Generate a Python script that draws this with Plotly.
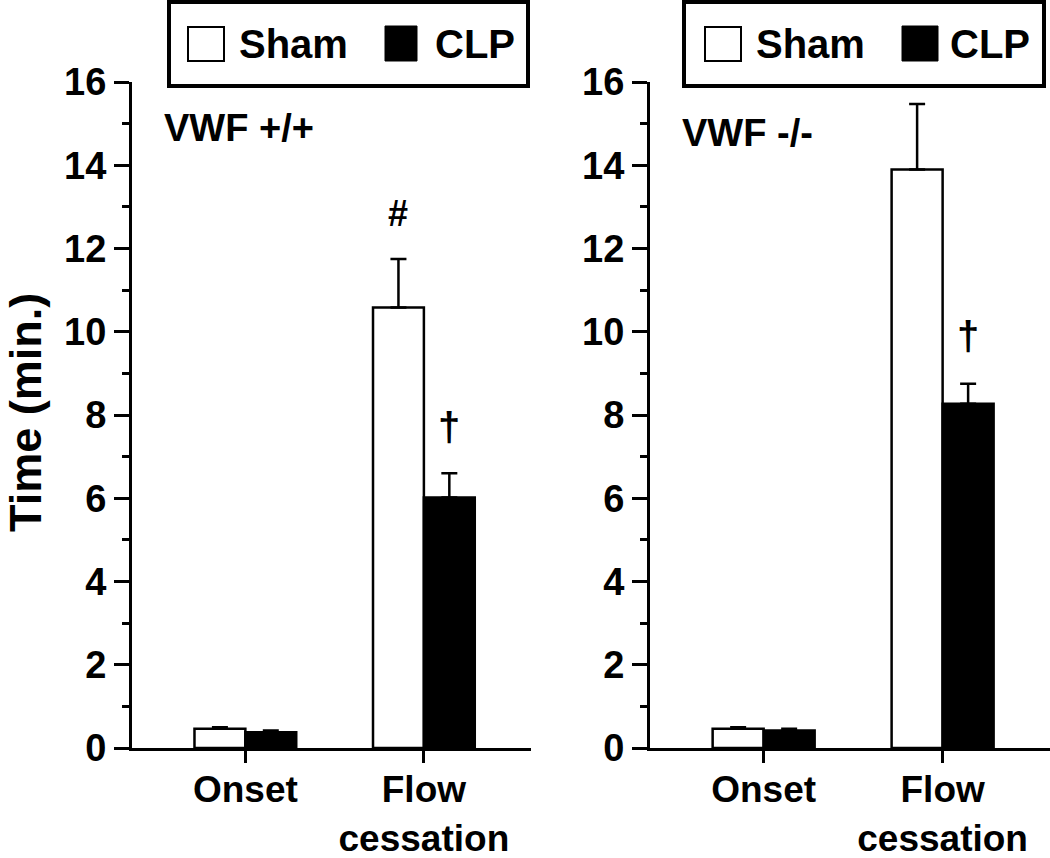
import plotly.graph_objects as go

W, H = 1050, 858

categories = ["Onset", "Flow<br>cessation"]
panels = ["VWF +/+", "VWF -/-"]
groups = ["Sham", "CLP"]

sham_wt = [0.46, 10.58]
sham_wt_err = [0.04, 1.17]
clp_wt = [0.38, 6.02]
clp_wt_err = [0.04, 0.58]

sham_ko = [0.46, 13.90]
sham_ko_err = [0.04, 1.57]
clp_ko = [0.42, 8.27]
clp_ko_err = [0.04, 0.48]

y_ticks = [0, 2, 4, 6, 8, 10, 12, 14, 16]

FONT = "Liberation Sans, Arial, sans-serif"
BLACK = "#000000"


def px(x):
    return x / W


def py(y):
    return 1 - y / H


fig = go.Figure()

series = [
    ("x", "y", sham_wt, sham_wt_err, clp_wt, clp_wt_err),
    ("x2", "y2", sham_ko, sham_ko_err, clp_ko, clp_ko_err),
]
for xa, ya, s, se, c, ce in series:
    fig.add_trace(go.Bar(
        x=categories, y=s, name=groups[0], xaxis=xa, yaxis=ya,
        marker=dict(color="white", line=dict(color=BLACK, width=2.5)),
        error_y=dict(type="data", symmetric=False, array=se,
                     arrayminus=[0] * len(se), color=BLACK,
                     thickness=2.5, width=8),
        showlegend=False,
    ))
    fig.add_trace(go.Bar(
        x=categories, y=c, name=groups[1], xaxis=xa, yaxis=ya,
        marker=dict(color=BLACK, line=dict(color=BLACK, width=2.5)),
        error_y=dict(type="data", symmetric=False, array=ce,
                     arrayminus=[0] * len(ce), color=BLACK,
                     thickness=2.5, width=8),
        showlegend=False,
    ))

xdom_left = [px(132), px(531)]
xdom_right = [px(650), 1.0]
ydom = [py(748), py(82)]

xaxis_common = dict(
    type="category", range=[-0.635, 1.6], showline=True, linecolor=BLACK,
    linewidth=3, ticks="outside", ticklen=12, tickwidth=3, tickcolor=BLACK,
    showgrid=False, zeroline=False, fixedrange=True, automargin=False,
    ticklabelstandoff=-5,
    tickfont=dict(family=FONT, size=37, color=BLACK, weight="bold"),
)
yaxis_common = dict(
    range=[0, 16], tickvals=y_ticks, showline=True, linecolor=BLACK,
    linewidth=3, ticks="outside", ticklen=15, tickwidth=3, tickcolor=BLACK,
    showgrid=False, zeroline=False, fixedrange=True, automargin=False,
    minor=dict(dtick=1, ticks="outside", ticklen=7, tickwidth=3,
               tickcolor=BLACK, showgrid=False),
    tickfont=dict(family=FONT, size=38, color=BLACK, weight="bold"),
)

fig.update_layout(
    width=W, height=H,
    margin=dict(l=0, r=0, t=0, b=0, pad=0, autoexpand=False),
    paper_bgcolor="white", plot_bgcolor="white",
    barmode="group", bargap=0.43, bargroupgap=0,
    xaxis=dict(domain=xdom_left, anchor="y", **xaxis_common),
    yaxis=dict(domain=ydom, anchor="x", **yaxis_common),
    xaxis2=dict(domain=xdom_right, anchor="y2", **xaxis_common),
    yaxis2=dict(domain=ydom, anchor="x2", **yaxis_common),
    showlegend=False,
)

shapes = []
annotations = []

# legend boxes (two identical legends)
legend_specs = [
    dict(box=(169, 528), white=(188, 224), black=(385, 417),
         sham_x=237, clp_x=433),
    dict(box=(684, 1044), white=(705, 741), black=(902, 938),
         sham_x=754, clp_x=948),
]
for spec in legend_specs:
    shapes.append(dict(type="rect", xref="paper", yref="paper",
                       x0=px(spec["box"][0]), x1=px(spec["box"][1]),
                       y0=py(86), y1=py(2),
                       line=dict(color=BLACK, width=4), fillcolor="white"))
    shapes.append(dict(type="rect", xref="paper", yref="paper",
                       x0=px(spec["white"][0]), x1=px(spec["white"][1]),
                       y0=py(61), y1=py(27),
                       line=dict(color=BLACK, width=2), fillcolor="white"))
    shapes.append(dict(type="rect", xref="paper", yref="paper",
                       x0=px(spec["black"][0]), x1=px(spec["black"][1]),
                       y0=py(61), y1=py(26),
                       line=dict(color=BLACK, width=1), fillcolor=BLACK))
    for label, xpos in ((groups[0], spec["sham_x"]), (groups[1], spec["clp_x"])):
        annotations.append(dict(
            text=label, xref="paper", yref="paper", x=px(xpos), y=py(44),
            xanchor="left", yanchor="middle", showarrow=False,
            font=dict(family=FONT, size=40, color=BLACK, weight="bold")))

# panel labels
annotations.append(dict(
    text=panels[0], xref="paper", yref="paper", x=px(162), y=py(128),
    xanchor="left", yanchor="middle", showarrow=False,
    font=dict(family=FONT, size=38, color=BLACK, weight="bold")))
annotations.append(dict(
    text=panels[1], xref="paper", yref="paper", x=px(680), y=py(133),
    xanchor="left", yanchor="middle", showarrow=False,
    font=dict(family=FONT, size=38, color=BLACK, weight="bold")))

# significance markers (data coordinates)
annotations.append(dict(
    text="#", xref="x", yref="y", x=0.857, y=12.85,
    xanchor="center", yanchor="middle", showarrow=False,
    font=dict(family=FONT, size=36, color=BLACK, weight="bold")))
annotations.append(dict(
    text="†", xref="x", yref="y", x=1.143, y=7.7,
    xanchor="center", yanchor="middle", showarrow=False,
    font=dict(family=FONT, size=40, color=BLACK, weight="bold")))
annotations.append(dict(
    text="†", xref="x2", yref="y2", x=1.143, y=9.9,
    xanchor="center", yanchor="middle", showarrow=False,
    font=dict(family=FONT, size=40, color=BLACK, weight="bold")))

# y-axis title
annotations.append(dict(
    text="Time (min.)", xref="paper", yref="paper", x=px(26), y=py(413),
    xanchor="center", yanchor="middle", textangle=-90, showarrow=False,
    font=dict(family=FONT, size=45, color=BLACK, weight="bold")))

fig.update_layout(shapes=shapes, annotations=annotations)

fig.write_html(
    "out.html",
    config={"displayModeBar": False},
    post_script="document.body.style.margin='0';document.body.style.padding='0';"
                "document.body.style.overflow='hidden';",
)
